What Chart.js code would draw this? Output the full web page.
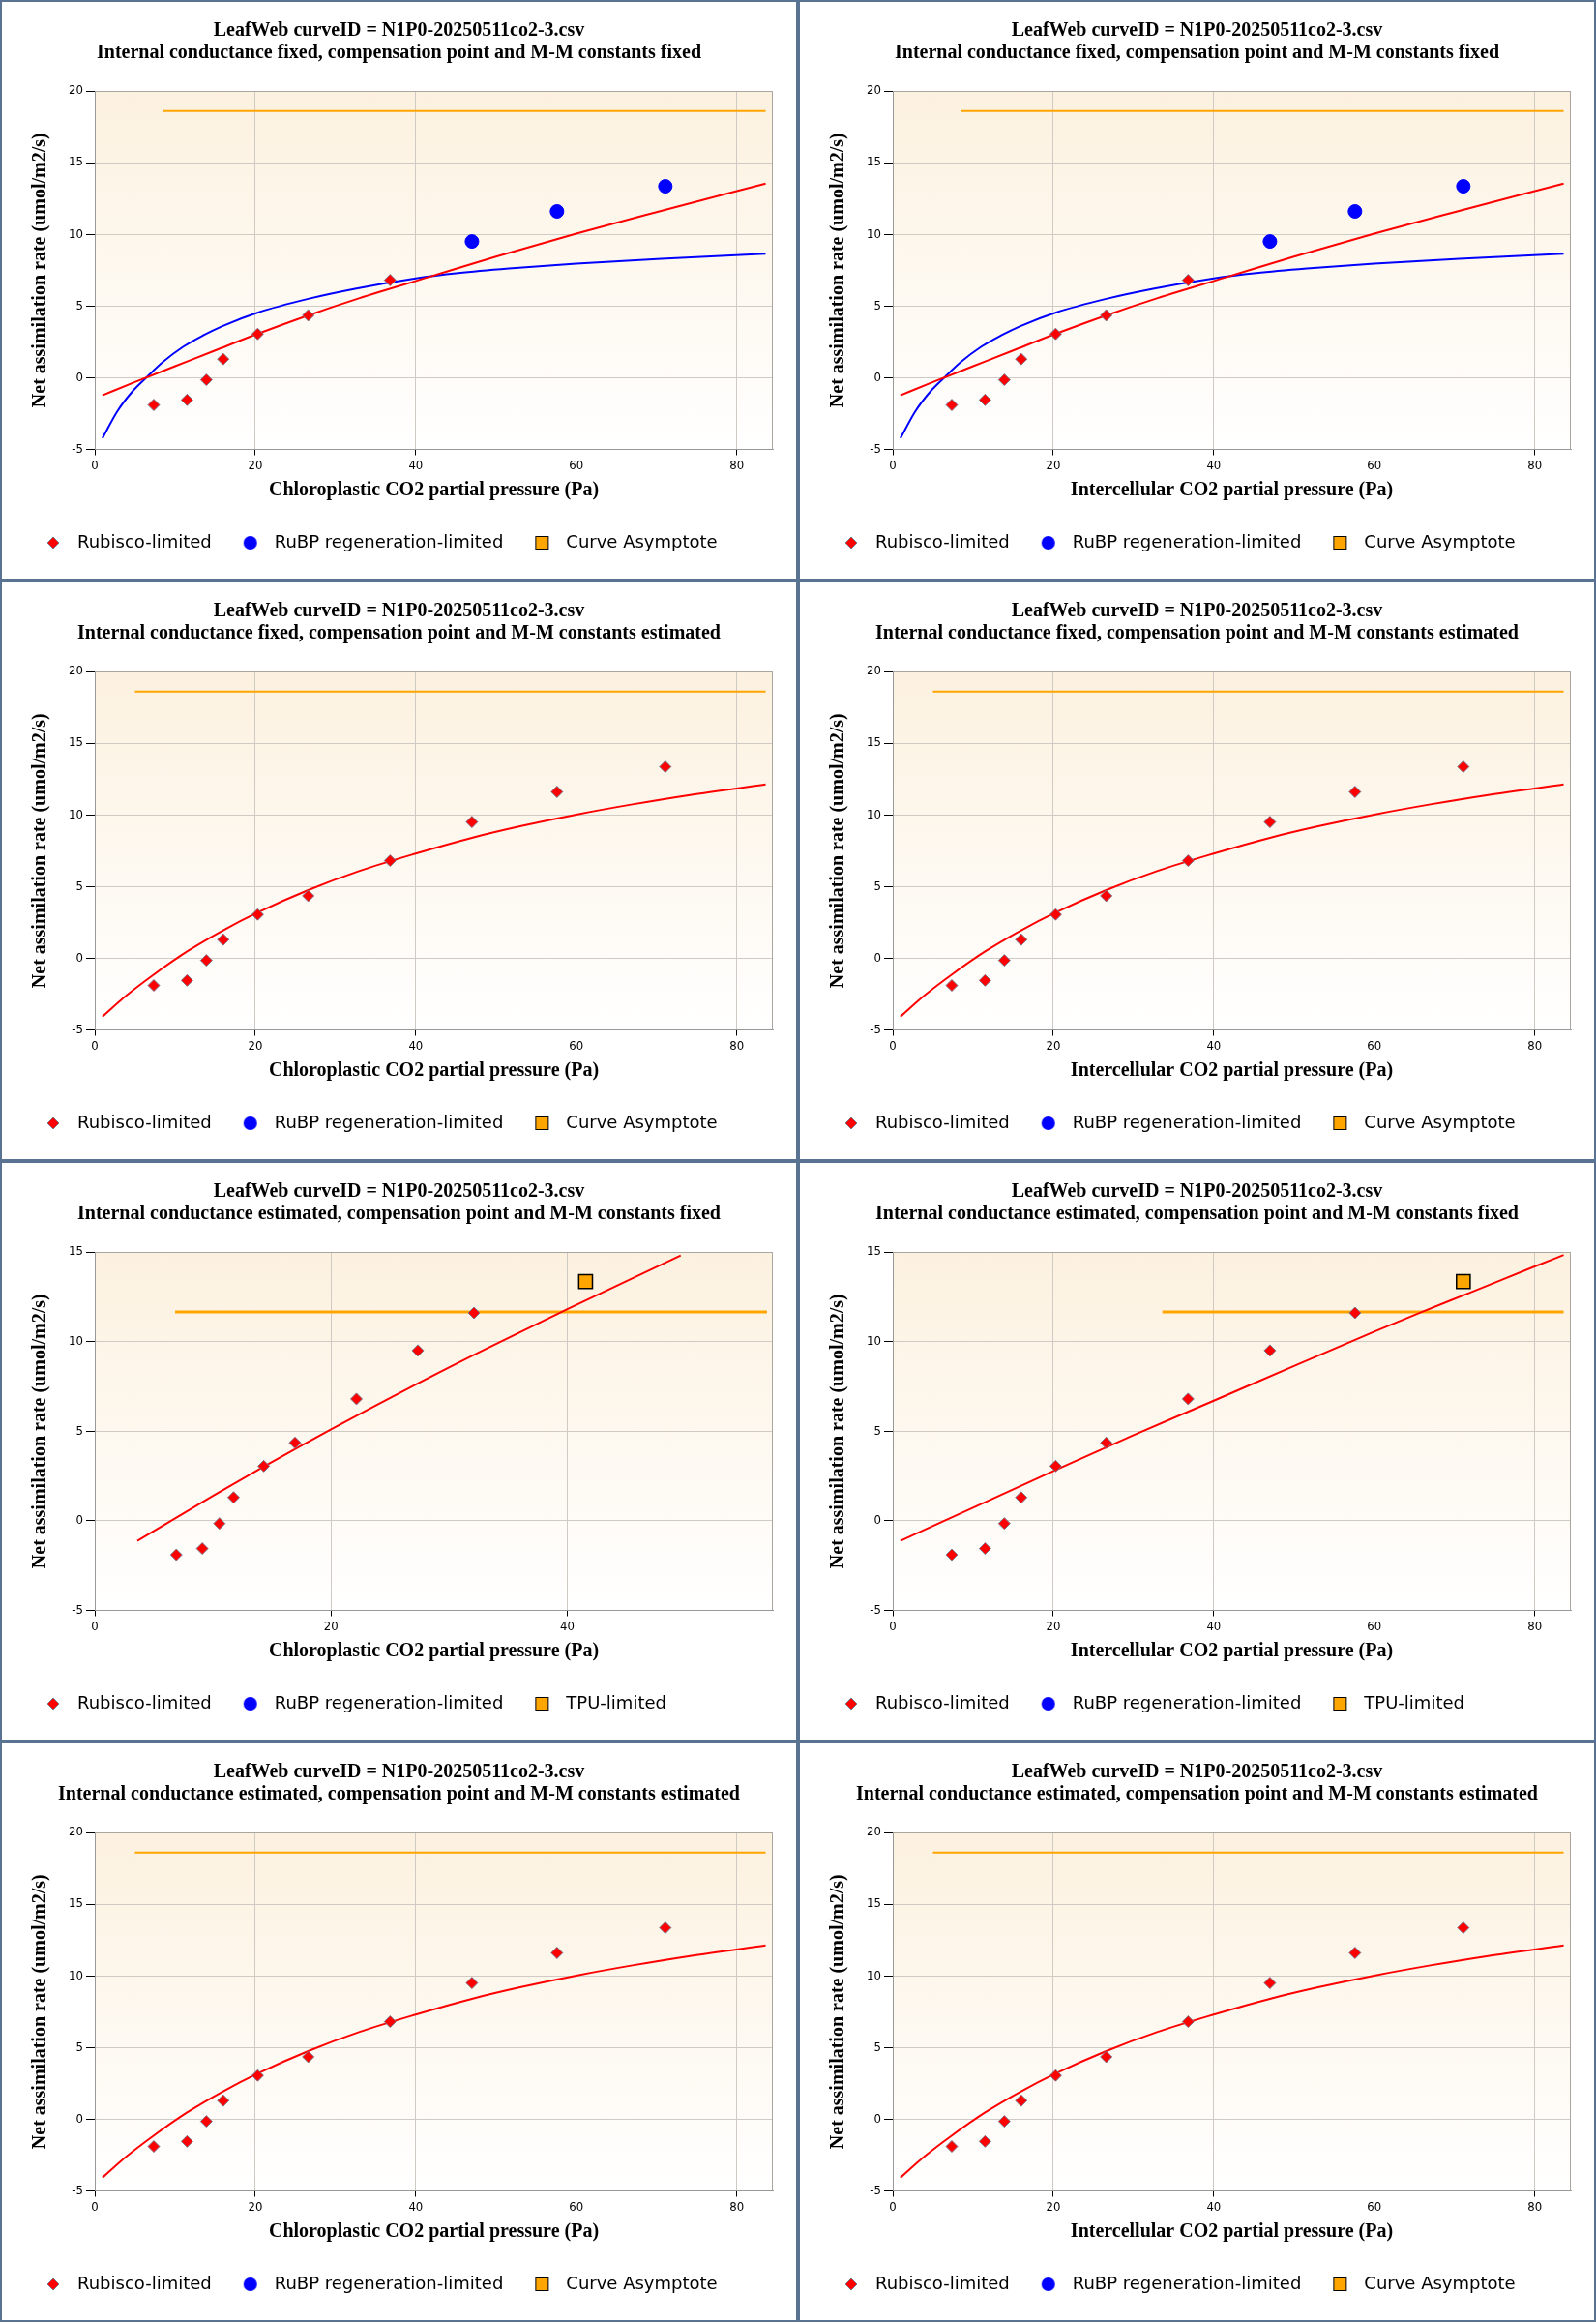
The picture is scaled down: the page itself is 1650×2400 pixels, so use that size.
<!DOCTYPE html>
<html>
<head>
<meta charset="utf-8">
<title>LeafWeb curve fits</title>
<script src="https://cdn.jsdelivr.net/npm/chart.js@4.4.1/dist/chart.umd.min.js"></script>
<style>
  html, body { margin: 0; padding: 0; background: #fff; }
  #grid { display: grid; grid-template-columns: 825px 825px; grid-template-rows: repeat(4, 600px); width: 1650px; }
  .panel { box-sizing: border-box; width: 825px; height: 600px; border: 2px solid #5b7392; }
  .panel canvas { display: block; }
</style>
</head>
<body>
<div id="grid"></div>
<script>
const titleLine = 'LeafWeb curveID = N1P0-20250511co2-3.csv';
const fitTitles = [
    'Internal conductance fixed, compensation point and M-M constants fixed',
    'Internal conductance fixed, compensation point and M-M constants estimated',
    'Internal conductance estimated, compensation point and M-M constants fixed',
    'Internal conductance estimated, compensation point and M-M constants estimated'
];
const xAxisTitles = ['Chloroplastic CO2 partial pressure (Pa)', 'Intercellular CO2 partial pressure (Pa)'];
const yAxisTitle = 'Net assimilation rate (umol/m2/s)';
const seriesNames = ['Rubisco-limited', 'RuBP regeneration-limited', 'Curve Asymptote', 'TPU-limited'];

// measured points
const measCi = [7.35, 11.5, 13.9, 16.0, 20.3, 26.6, 36.8, 47.0, 57.6, 71.1];
const measA = [-1.9, -1.55, -0.15, 1.3, 3.05, 4.35, 6.8, 9.5, 11.6, 13.35];
const measCcGmEst = [6.9, 9.1, 10.55, 11.75, 14.3, 16.95, 22.15, 27.35, 32.1, 41.55];

// which process limits each point
const limFixed = ['rub', 'rub', 'rub', 'rub', 'rub', 'rub', 'rub', 'rubp', 'rubp', 'rubp'];
const limAllRub = ['rub', 'rub', 'rub', 'rub', 'rub', 'rub', 'rub', 'rub', 'rub', 'rub'];
const limTpu = ['rub', 'rub', 'rub', 'rub', 'rub', 'rub', 'rub', 'rub', 'rub', 'tpu'];

// fitted curves
const rubFixFixX = [0.95, 5, 10, 15, 20.3, 26.6, 33, 41.5, 50, 60, 70, 83.6];
const rubFixFixA = [-1.23, -0.3, 0.8, 1.9, 3.06, 4.35, 5.55, 7.0, 8.45, 10.05, 11.55, 13.54];
const rubpFixFixX = [0.95, 2.8, 4.7, 6.5, 8.5, 11, 13.5, 15.9, 20.35, 26.6, 32.6, 40, 45.3, 51.6, 60, 70.6, 83.6];
const rubpFixFixA = [-4.23, -2.35, -0.95, 0.05, 1.1, 2.15, 2.95, 3.6, 4.55, 5.5, 6.22, 6.93, 7.3, 7.62, 7.96, 8.3, 8.64];
const rubEstX = [0.95, 4, 7.2, 11.5, 16, 20.3, 26.6, 33, 40, 47, 53, 60, 67, 74, 83.6];
const rubEstA = [-4.07, -2.57, -1.2, 0.47, 1.95, 3.19, 4.75, 6.09, 7.3, 8.4, 9.2, 10.02, 10.73, 11.37, 12.12];
const rubGmCcX = [3.6, 10, 14.3, 20, 27.35, 33, 40, 49.6];
const rubGmCcA = [-1.12, 1.39, 3.02, 5.1, 7.67, 9.56, 11.81, 14.8];
const rubGmCiX = [0.95, 10, 20.3, 30, 40, 50, 60, 65.9, 72, 80, 83.6];
const rubGmCiA = [-1.12, 0.73, 2.83, 4.78, 6.7, 8.64, 10.55, 11.65, 12.74, 14.19, 14.83];

// asymptotes
const asymFixFixX = [8.5, 83.6];
const asymEstX = [5, 83.6];
const asymA = [18.6, 18.6];
const tpuCcX = [6.8, 56.9];
const tpuCiX = [33.6, 83.6];
const tpuA = [11.65, 11.65];

const xTicks = [0, 20, 40, 60, 80];
const yTicksWide = [-5, 0, 5, 10, 15, 20];

const panels = [
    { fit: 0, axis: 0, xs: measCi, lim: limFixed, xMax: 84.5, yMax: 20, rub: [rubFixFixX, rubFixFixA], rubp: [rubpFixFixX, rubpFixFixA], asym: [asymFixFixX, asymA], third: 2 },
    { fit: 0, axis: 1, xs: measCi, lim: limFixed, xMax: 84.5, yMax: 20, rub: [rubFixFixX, rubFixFixA], rubp: [rubpFixFixX, rubpFixFixA], asym: [asymFixFixX, asymA], third: 2 },
    { fit: 1, axis: 0, xs: measCi, lim: limAllRub, xMax: 84.5, yMax: 20, rub: [rubEstX, rubEstA], rubp: null, asym: [asymEstX, asymA], third: 2 },
    { fit: 1, axis: 1, xs: measCi, lim: limAllRub, xMax: 84.5, yMax: 20, rub: [rubEstX, rubEstA], rubp: null, asym: [asymEstX, asymA], third: 2 },
    { fit: 2, axis: 0, xs: measCcGmEst, lim: limTpu, xMax: 57.4, yMax: 15, rub: [rubGmCcX, rubGmCcA], rubp: null, asym: [tpuCcX, tpuA], third: 3 },
    { fit: 2, axis: 1, xs: measCi, lim: limTpu, xMax: 84.5, yMax: 15, rub: [rubGmCiX, rubGmCiA], rubp: null, asym: [tpuCiX, tpuA], third: 3 },
    { fit: 3, axis: 0, xs: measCi, lim: limAllRub, xMax: 84.5, yMax: 20, rub: [rubEstX, rubEstA], rubp: null, asym: [asymEstX, asymA], third: 2 },
    { fit: 3, axis: 1, xs: measCi, lim: limAllRub, xMax: 84.5, yMax: 20, rub: [rubEstX, rubEstA], rubp: null, asym: [asymEstX, asymA], third: 2 }
];

const serifBold = { family: '"Liberation Serif", "Times New Roman", serif', size: 20, weight: 'bold', lineHeight: 1.2 };
const tickFont = { family: '"DejaVu Sans Condensed", "DejaVu Sans", sans-serif', size: 13 };
const legendFont = { family: '"DejaVu Sans", sans-serif', size: 18 };

function toPoints(xs, ys) {
    return xs.map((x, i) => ({ x: x, y: ys[i] }));
}

function pick(xs, ys, lim, kind) {
    const pts = [];
    xs.forEach((x, i) => { if (lim[i] === kind) pts.push({ x: x, y: ys[i] }); });
    return pts;
}

function markerCanvas(draw) {
    const c = document.createElement('canvas');
    c.width = 16;
    c.height = 16;
    draw(c.getContext('2d'));
    return c;
}

const legendMarkers = {
    diamond: markerCanvas(g => {
        g.beginPath();
        g.moveTo(8, 2); g.lineTo(14, 8); g.lineTo(8, 14); g.lineTo(2, 8);
        g.closePath();
        g.fillStyle = '#ff0000';
        g.fill();
        g.strokeStyle = '#7a7a90';
        g.lineWidth = 1;
        g.stroke();
    }),
    circle: markerCanvas(g => {
        g.beginPath();
        g.arc(8, 8, 7, 0, Math.PI * 2);
        g.fillStyle = '#0000ff';
        g.fill();
    }),
    square: markerCanvas(g => {
        g.fillStyle = '#ffa500';
        g.fillRect(1.5, 1.5, 13, 13);
        g.strokeStyle = '#000';
        g.lineWidth = 1;
        g.strokeRect(1.5, 1.5, 13, 13);
    })
};

// beige plot background plus top/right frame
const plotFrame = {
    id: 'plotFrame',
    beforeDraw(chart) {
        const { ctx, chartArea: a } = chart;
        const g = ctx.createLinearGradient(0, a.top, 0, a.bottom);
        g.addColorStop(0, '#fcf1df');
        g.addColorStop(1, '#ffffff');
        ctx.save();
        ctx.fillStyle = g;
        ctx.fillRect(a.left, a.top, a.right - a.left, a.bottom - a.top);
        ctx.restore();
    },
    beforeDatasetsDraw(chart) {
        const { ctx, chartArea: a } = chart;
        ctx.save();
        ctx.strokeStyle = '#aaa59f';
        ctx.lineWidth = 1;
        ctx.beginPath();
        ctx.moveTo(a.left, a.top + 0.5);
        ctx.lineTo(a.right - 0.5, a.top + 0.5);
        ctx.lineTo(a.right - 0.5, a.bottom);
        ctx.stroke();
        ctx.restore();
    }
};

function buildDatasets(p) {
    const sets = [];
    sets.push({
        label: seriesNames[0], legendMarker: 'diamond', order: 0,
        data: pick(p.xs, measA, p.lim, 'rub'),
        pointStyle: 'rectRot', pointRadius: 6, backgroundColor: '#ff0000', borderColor: '#7a7a90', borderWidth: 1
    });
    sets.push({
        label: seriesNames[1], legendMarker: 'circle', order: 0,
        data: pick(p.xs, measA, p.lim, 'rubp'),
        pointStyle: 'circle', pointRadius: 7, backgroundColor: '#0000ff', borderColor: '#0000ff', borderWidth: 1
    });
    if (p.third === 3) {
        sets.push({
            label: seriesNames[3], legendMarker: 'square', order: 0,
            data: pick(p.xs, measA, p.lim, 'tpu'),
            pointStyle: 'rect', pointRadius: 10, backgroundColor: '#ffa500', borderColor: '#000000', borderWidth: 1.5
        });
    }
    sets.push({
        label: 'Rubisco fit', order: 1, data: toPoints(p.rub[0], p.rub[1]),
        showLine: true, pointRadius: 0, borderColor: '#ff0000', borderWidth: 2, cubicInterpolationMode: 'monotone'
    });
    if (p.rubp) {
        sets.push({
            label: 'RuBP fit', order: 1, data: toPoints(p.rubp[0], p.rubp[1]),
            showLine: true, pointRadius: 0, borderColor: '#0000ff', borderWidth: 2, cubicInterpolationMode: 'monotone'
        });
    }
    sets.push({
        label: seriesNames[2], legendMarker: p.third === 2 ? 'square' : null, order: 2,
        data: toPoints(p.asym[0], p.asym[1]),
        showLine: true, pointRadius: 0, borderColor: '#ffa500', borderWidth: p.third === 3 ? 3 : 2
    });
    return sets;
}

function makePanel(p) {
    const div = document.createElement('div');
    div.className = 'panel';
    const canvas = document.createElement('canvas');
    canvas.width = 821;
    canvas.height = 596;
    div.appendChild(canvas);
    document.getElementById('grid').appendChild(div);

    new Chart(canvas, {
        type: 'scatter',
        data: { datasets: buildDatasets(p) },
        options: {
            responsive: false,
            animation: false,
            layout: { padding: { left: 13, right: 13, top: 0, bottom: 18 } },
            scales: {
                x: {
                    type: 'linear', min: 0, max: p.xMax,
                    afterBuildTicks: s => { s.ticks = xTicks.filter(v => v <= p.xMax).map(v => ({ value: v })); },
                    ticks: { font: tickFont, color: '#000', padding: 3, maxRotation: 0 },
                    grid: { color: '#cfcac4', tickColor: '#000', tickLength: 6 },
                    border: { color: '#999999' },
                    title: { display: true, text: xAxisTitles[p.axis], font: serifBold, color: '#000', padding: { top: 0, bottom: 9 } },
                    afterFit: s => { s.height = 63.5; }
                },
                y: {
                    type: 'linear', min: -5, max: p.yMax,
                    afterBuildTicks: s => { s.ticks = yTicksWide.filter(v => v <= p.yMax).map(v => ({ value: v })); },
                    ticks: { font: tickFont, color: '#000', padding: 3 },
                    grid: { color: '#cfcac4', tickColor: '#000', tickLength: 9 },
                    border: { color: '#999999' },
                    title: { display: true, text: yAxisTitle, font: serifBold, color: '#000', padding: { top: 15, bottom: 0 } },
                    afterFit: s => { s.width = 83; }
                },
                pad: {
                    type: 'linear', position: 'right', display: true,
                    grid: { display: false }, ticks: { display: false }, border: { display: false },
                    afterFit: s => { s.width = 11; }
                }
            },
            plugins: {
                tooltip: { enabled: false },
                title: {
                    display: true,
                    text: [titleLine, fitTitles[p.fit]],
                    font: { family: serifBold.family, size: 20, weight: 'bold', lineHeight: 1.15 },
                    color: '#000',
                    padding: { top: 18, bottom: 28 }
                },
                legend: {
                    position: 'bottom',
                    align: 'start',
                    labels: {
                        usePointStyle: true,
                        pointStyleWidth: 32,
                        padding: 24,
                        font: legendFont,
                        color: '#000',
                        generateLabels: chart => chart.data.datasets
                            .map((ds, i) => ds.legendMarker ? {
                                text: ds.label,
                                datasetIndex: i,
                                pointStyle: legendMarkers[ds.legendMarker],
                                fillStyle: '#000',
                                strokeStyle: '#000',
                                lineWidth: 0,
                                fontColor: '#000',
                                hidden: false
                            } : null)
                            .filter(item => item !== null)
                    }
                }
            }
        },
        plugins: [plotFrame]
    });
}

document.addEventListener('DOMContentLoaded', () => {
    panels.forEach(makePanel);
});
</script>
</body>
</html>
